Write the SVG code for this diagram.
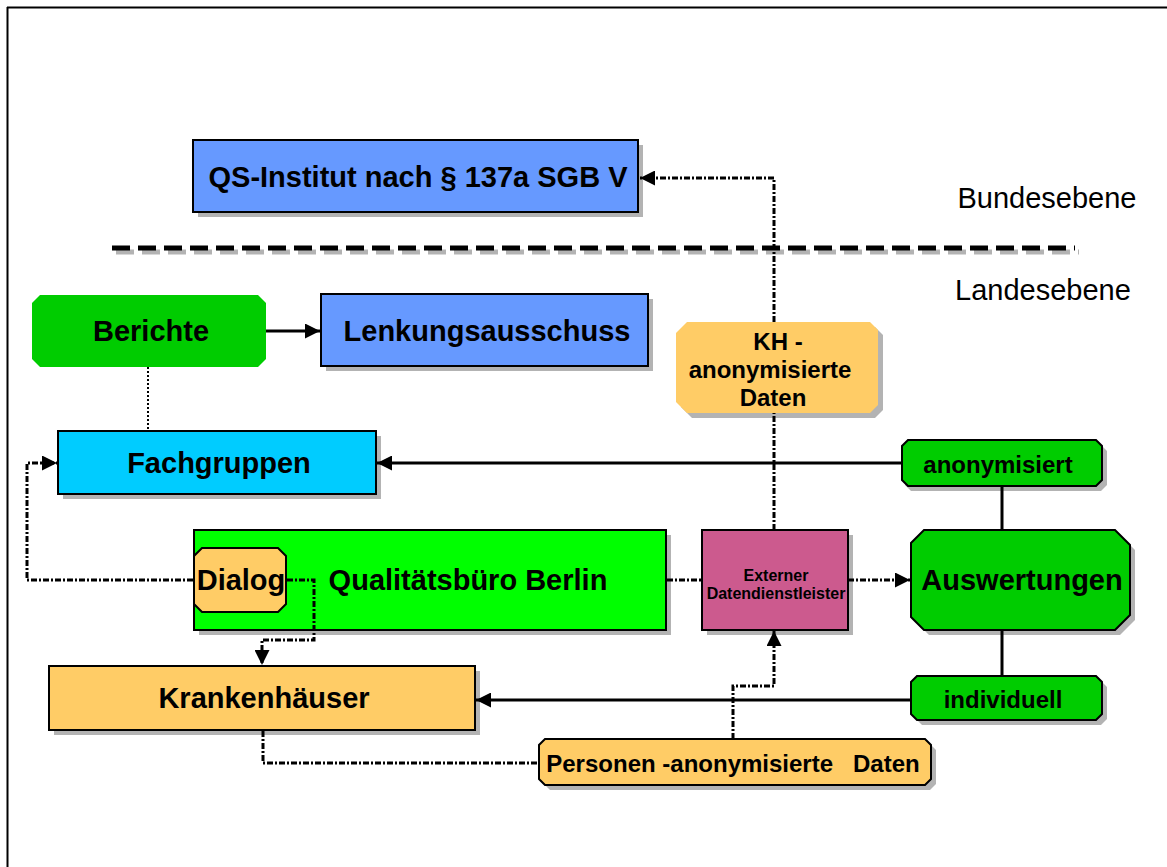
<svg xmlns="http://www.w3.org/2000/svg" width="1167" height="867" viewBox="0 0 1167 867">
<defs>
<style>
text{font-family:"Liberation Sans",Arial,sans-serif;font-weight:bold;fill:#000;text-anchor:middle;dominant-baseline:central}
.sh{fill:#b3b3b3}
.bx{stroke:#000;stroke-width:2}
.solid{fill:none;stroke:#000;stroke-width:3}
.dot{fill:none;stroke:#000;stroke-width:3;stroke-dasharray:6 2 2 2}
.dotthin{fill:none;stroke:#000;stroke-width:2;stroke-dasharray:2 2}
.big{font-size:29px}
.mid{font-size:24px}
</style>
<marker id="ah" viewBox="0 0 10 10" refX="10" refY="5" markerWidth="5" markerHeight="5" markerUnits="strokeWidth" orient="auto">
<path d="M0,0 L10,5 L0,10 z" fill="#000"/>
</marker>
</defs>
<rect width="1167" height="867" fill="#fff"/>
<g id="frame">
<line x1="7" y1="7.5" x2="1167" y2="7.5" stroke="#000" stroke-width="2"/>
<line x1="7.5" y1="7" x2="7.5" y2="867" stroke="#000" stroke-width="2"/>
</g>
<g id="levels">
<line x1="116" y1="252" x2="1079" y2="252" stroke="#b3b3b3" stroke-width="5" stroke-dasharray="18 8"/>
<line x1="112" y1="248" x2="1075" y2="248" stroke="#000" stroke-width="5" stroke-dasharray="18 8"/>
<text x="1047" y="198" class="big" style="font-weight:normal">Bundesebene</text>
<text x="1043" y="290" class="big" style="font-weight:normal">Landesebene</text>
</g>
<g id="qs">
<rect class="sh" x="198" y="145" width="445" height="72"/>
<rect class="bx" x="193" y="140" width="445" height="72" fill="#6699ff"/>
<text x="418" y="177" class="big">QS-Institut nach § 137a SGB V</text>
</g>
<g id="berichte">
<path d="M40,295 H258 L266,303 V359 L258,367 H40 L32,359 V303 Z" fill="#00cc00"/>
<text x="151" y="331" class="big">Berichte</text>
</g>
<g id="lenkung">
<rect class="sh" x="326" y="299" width="327" height="72"/>
<rect class="bx" x="321" y="294" width="327" height="72" fill="#6699ff"/>
<text x="487" y="331" class="big">Lenkungsausschuss</text>
</g>
<g id="kh">
<path class="sh" d="M692,327 H875 L883,335 V410 L875,418 H692 L681,407 V338 Z"/>
<path d="M687,322 H870 L878,330 V405 L870,413 H687 L676,402 V333 Z" fill="#ffcc66"/>
<text x="778" y="341" class="mid">KH -</text>
<text x="770" y="369" class="mid">anonymisierte</text>
<text x="773" y="397" class="mid">Daten</text>
</g>
<g id="fachgruppen">
<rect class="sh" x="63" y="436" width="318" height="63"/>
<rect class="bx" x="58" y="431" width="318" height="63" fill="#00ccff"/>
<text x="219" y="463" class="big">Fachgruppen</text>
</g>
<g id="anonymisiert">
<path class="sh" d="M911,445 H1101 L1107,451 V485 L1101,491 H911 L905,485 V451 Z"/>
<path class="bx" d="M908,440 H1096 L1102,446 V480 L1096,486 H908 L902,480 V446 Z" fill="#00cc00"/>
<text x="998" y="464" class="mid">anonymisiert</text>
</g>
<g id="qb">
<rect class="sh" x="199" y="535" width="472" height="100"/>
<rect class="bx" x="194" y="530" width="472" height="100" fill="#00ff00"/>
<text x="468" y="580" class="big">Qualitätsbüro Berlin</text>
</g>
<g id="dialog">
<path class="bx" d="M202,548 H278 L286,556 V604 L278,612 H202 L194,604 V556 Z" fill="#ffcc66"/>
<text x="241" y="580" class="big">Dialog</text>
</g>
<g id="extern">
<rect class="sh" x="707" y="535" width="146" height="100"/>
<rect class="bx" x="702" y="530" width="146" height="100" fill="#cc5a8e"/>
<text x="776" y="575" style="font-size:16px">Externer</text>
<text x="776" y="593" style="font-size:16px">Datendienstleister</text>
</g>
<g id="auswertungen">
<path class="sh" d="M929,535 H1120 L1135,550 V620 L1120,635 H929 L916,622 V548 Z"/>
<path class="bx" d="M924,530 H1115 L1130,545 V615 L1115,630 H924 L911,617 V543 Z" fill="#00cc00"/>
<text x="1022" y="580" class="big">Auswertungen</text>
</g>
<g id="individuell">
<path class="sh" d="M922,681 H1101 L1107,687 V719 L1101,725 H922 L916,719 V687 Z"/>
<path class="bx" d="M917,676 H1096 L1102,682 V714 L1096,720 H917 L911,714 V682 Z" fill="#00cc00"/>
<text x="1003" y="699" class="mid">individuell</text>
</g>
<g id="krankenhaeuser">
<rect class="sh" x="54" y="671" width="426" height="64"/>
<rect class="bx" x="49" y="666" width="426" height="64" fill="#ffcc66"/>
<text x="264" y="698" class="big">Krankenhäuser</text>
</g>
<g id="personen">
<path class="sh" d="M550,744 H930 L936,750 V784 L930,790 H550 L544,784 V750 Z"/>
<path class="bx" d="M545,739 H925 L931,745 V779 L925,785 H545 L539,779 V745 Z" fill="#ffcc66"/>
<text x="733" y="763" class="mid" xml:space="preserve">Personen -anonymisierte   Daten</text>
</g>
<g id="connectors">
<line class="dot" x1="774" y1="530" x2="774" y2="413"/>
<path class="dot" d="M774,322 V178 H640" marker-end="url(#ah)"/>
<line class="solid" x1="266" y1="331" x2="320" y2="331" marker-end="url(#ah)"/>
<line class="dotthin" x1="148" y1="367" x2="148" y2="431"/>
<line class="solid" x1="902" y1="463" x2="377" y2="463" marker-end="url(#ah)"/>
<line class="solid" x1="1002" y1="486" x2="1002" y2="530"/>
<line class="solid" x1="1002" y1="630" x2="1002" y2="676"/>
<line class="solid" x1="911" y1="700" x2="476" y2="700" marker-end="url(#ah)"/>
<line class="dot" x1="667" y1="580" x2="702" y2="580"/>
<line class="dot" x1="848" y1="580" x2="910" y2="580" marker-end="url(#ah)"/>
<path class="dot" d="M287,580 H314 V640 H262 V665" marker-end="url(#ah)"/>
<path class="dot" d="M193,580 H27 V463 H57" marker-end="url(#ah)"/>
<path class="dot" d="M263,731 V763 H539"/>
<path class="dot" d="M733,739 V686 H774 V631" marker-end="url(#ah)"/>
</g>
</svg>
